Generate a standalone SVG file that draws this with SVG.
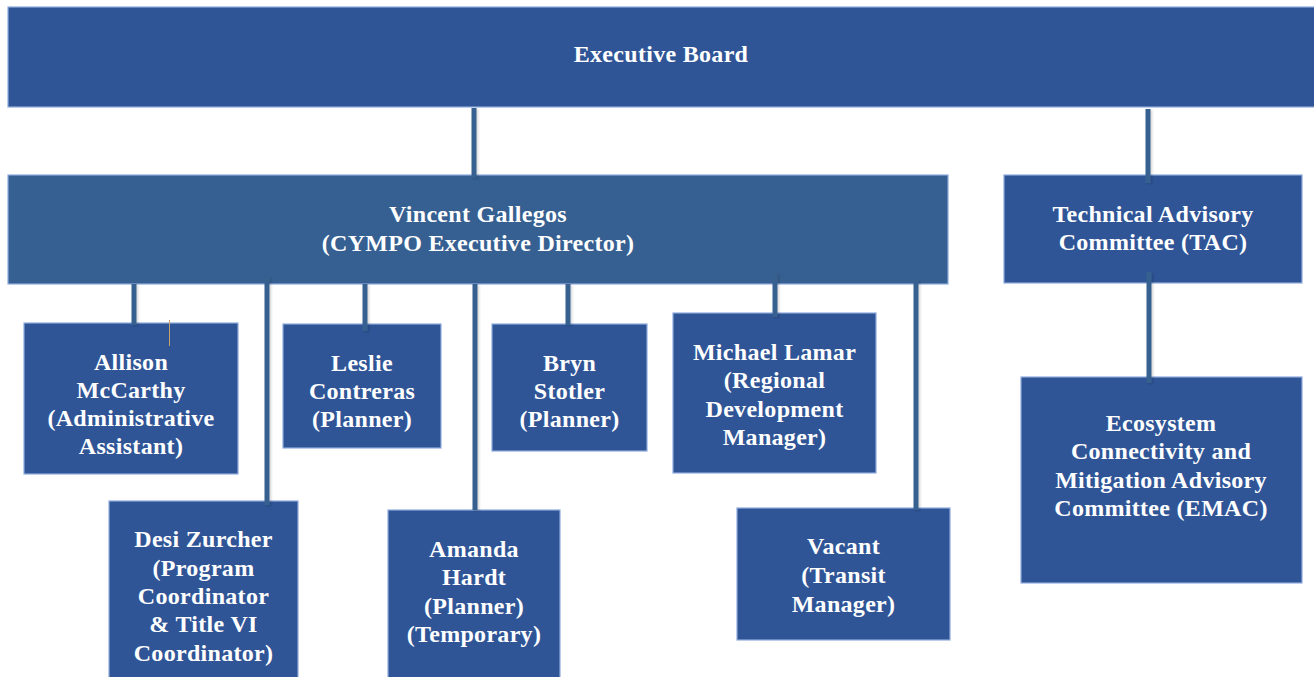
<svg xmlns="http://www.w3.org/2000/svg" width="1314" height="677" viewBox="0 0 1314 677">
<defs>
<filter id="sh" x="-50%" y="-5%" width="200%" height="110%">
<feDropShadow dx="1.5" dy="1" stdDeviation="1" flood-color="#000" flood-opacity="0.18"/>
</filter>
</defs>
<style>
.box{fill:#2F5597;stroke:#8FAADC;stroke-width:1.2}
.dir{fill:#366092;stroke:#8FAADC;stroke-width:1.2}
.t{font-family:"Liberation Serif","Times New Roman",serif;font-weight:bold;font-size:24px;fill:#FFFFFF;text-anchor:middle;letter-spacing:0.3px}
.c{stroke:#36618F;stroke-width:5;fill:none}
</style>
<rect x="0" y="0" width="1314" height="677" fill="#FFFFFF"/>
<g id="executive-board">
<rect class="box" x="8" y="7" width="1310" height="100"/>
<text class="t" x="661" y="62">Executive Board</text>
</g>
<g id="vincent-gallegos">
<rect class="dir" x="8" y="175" width="940" height="109"/>
<text class="t" x="478" y="222">Vincent Gallegos</text>
<text class="t" x="478" y="251">(CYMPO Executive Director)</text>
</g>
<g id="tac">
<rect class="box" x="1004" y="175" width="298" height="108"/>
<text class="t" x="1153" y="222">Technical Advisory</text>
<text class="t" x="1153" y="250">Committee (TAC)</text>
</g>
<g id="emac">
<rect class="box" x="1021" y="377" width="281" height="206"/>
<text class="t" x="1161" y="431">Ecosystem</text>
<text class="t" x="1161" y="459">Connectivity and</text>
<text class="t" x="1161" y="488">Mitigation Advisory</text>
<text class="t" x="1161" y="516">Committee (EMAC)</text>
</g>
<g id="allison-mccarthy">
<rect class="box" x="24" y="323" width="214" height="151"/>
<text class="t" x="131" y="370">Allison</text>
<text class="t" x="131" y="398">McCarthy</text>
<text class="t" x="131" y="426">(Administrative</text>
<text class="t" x="131" y="454">Assistant)</text>
</g>
<g id="leslie-contreras">
<rect class="box" x="283" y="324" width="158" height="124"/>
<text class="t" x="362" y="371">Leslie</text>
<text class="t" x="362" y="399">Contreras</text>
<text class="t" x="362" y="427">(Planner)</text>
</g>
<g id="bryn-stotler">
<rect class="box" x="492" y="324" width="155" height="127"/>
<text class="t" x="569.5" y="371">Bryn</text>
<text class="t" x="569.5" y="399">Stotler</text>
<text class="t" x="569.5" y="427">(Planner)</text>
</g>
<g id="michael-lamar">
<rect class="box" x="673" y="313" width="203" height="160"/>
<text class="t" x="774.5" y="360">Michael Lamar</text>
<text class="t" x="774.5" y="388">(Regional</text>
<text class="t" x="774.5" y="417">Development</text>
<text class="t" x="774.5" y="445">Manager)</text>
</g>
<g id="desi-zurcher">
<rect class="box" x="109" y="501" width="189" height="190"/>
<text class="t" x="203.5" y="547">Desi Zurcher</text>
<text class="t" x="203.5" y="576">(Program</text>
<text class="t" x="203.5" y="604">Coordinator</text>
<text class="t" x="203.5" y="632">&amp; Title VI</text>
<text class="t" x="203.5" y="661">Coordinator)</text>
</g>
<g id="amanda-hardt">
<rect class="box" x="388" y="510" width="172" height="180"/>
<text class="t" x="474" y="557">Amanda</text>
<text class="t" x="474" y="585">Hardt</text>
<text class="t" x="474" y="614">(Planner)</text>
<text class="t" x="474" y="642">(Temporary)</text>
</g>
<g id="vacant">
<rect class="box" x="737" y="508" width="213" height="132"/>
<text class="t" x="843.5" y="554">Vacant</text>
<text class="t" x="843.5" y="583">(Transit</text>
<text class="t" x="843.5" y="612">Manager)</text>
</g>
<g id="connectors" filter="url(#sh)">
<line class="c" x1="474" y1="108" x2="474" y2="178"/>
<line class="c" x1="1148" y1="109" x2="1148" y2="183"/>
<line class="c" x1="1149" y1="272" x2="1149" y2="383"/>
<line class="c" x1="134" y1="284" x2="134" y2="325"/>
<line class="c" x1="267" y1="277" x2="267" y2="505"/>
<line class="c" x1="365" y1="284" x2="365" y2="331"/>
<line class="c" x1="475" y1="284" x2="475" y2="510"/>
<line class="c" x1="568" y1="284" x2="568" y2="325"/>
<line class="c" x1="775" y1="273" x2="775" y2="317"/>
<line class="c" x1="916" y1="280" x2="916" y2="510"/>
</g>
<line x1="169.5" y1="320" x2="169.5" y2="346" stroke="#C8A26A" stroke-width="1"/>
</svg>
